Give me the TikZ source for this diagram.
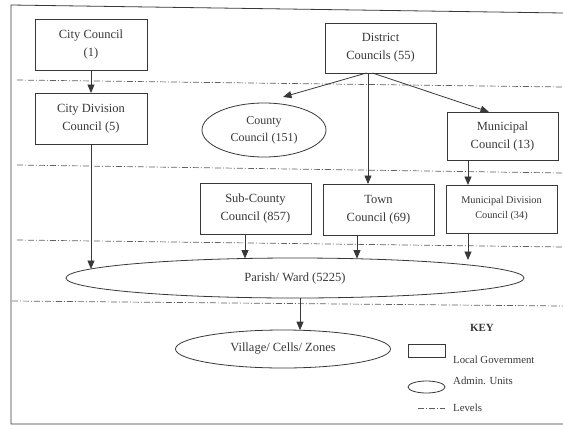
\documentclass[tikz,border=0pt]{standalone}
\usepackage{fontspec}
\setmainfont{Liberation Serif}
\usetikzlibrary{arrows.meta,shapes.geometric}
\definecolor{ink}{HTML}{383838}
\begin{document}
\begin{tikzpicture}[x=1pt,y=-1pt,
  every node/.style={text=ink},
  gov/.style={draw=ink,line width=0.8pt,rectangle,inner sep=0pt,outer sep=0pt,
    minimum width=111pt,minimum height=50pt,align=center,
    font=\fontsize{12.5}{18}\selectfont},
  unit/.style={draw=ink,line width=0.8pt,ellipse,inner sep=0pt,outer sep=0pt,align=center,
    font=\fontsize{12.5}{18}\selectfont},
  arr/.style={draw=ink,line width=0.8pt,-{Triangle[length=8.5pt,width=7pt]}},
  lvl/.style={draw=ink!80,line width=0.7pt,dash pattern=on 6pt off 2pt on 1pt off 2pt},
  keytxt/.style={anchor=west,font=\fontsize{10.8}{12}\selectfont,inner sep=0pt}]
\useasboundingbox (0,0) rectangle (563,429);
% frame
\draw[ink,line width=0.8pt] (563,13) -- (11,5) -- (11,424) -- (563,424);
% levels
\draw[lvl] (17,80) -- (563,87);
\draw[lvl] (17,165) -- (563,173);
\draw[lvl] (17,240) -- (563,247);
\draw[lvl] (12,301) -- (563,306);
% nodes
\node[gov,minimum width=112pt,minimum height=51pt] (cc) at (91,44.5) {City Council\\(1)};
\node[gov,minimum width=112pt,minimum height=51pt] (cd) at (91,118.5) {City Division\\Council (5)};
\node[gov] (dc) at (380.5,48) {District\\Councils (55)};
\node[unit,minimum width=124pt,minimum height=54pt,font=\fontsize{12}{17}\selectfont] (cw) at (264,130) {County\\Council (151)};
\node[gov,minimum height=48pt] (mc) at (502.5,136) {Municipal\\Council (13)};
\node[gov,minimum height=51pt] (sc) at (255.5,208.5) {Sub-County\\Council (857)};
\node[gov,minimum height=51pt] (tc) at (378.5,209.5) {Town\\Council (69)};
\node[gov,minimum height=48pt,font=\fontsize{10.3}{15}\selectfont] (md) at (501.5,209) {Municipal Division\\Council (34)};
\node[unit,minimum width=458pt,minimum height=40pt] (pw) at (295,278) {Parish/ Ward (5225)};
\node[unit,minimum width=215pt,minimum height=38pt] (vw) at (283,349) {Village/ Cells/ Zones};
% connector end points on ellipse borders
\coordinate (pcd) at (91,269);
\coordinate (psc) at (245,258.5);
\coordinate (ptc) at (357,258.7);
\coordinate (pmd) at (468,260);
\coordinate (pbot) at (300,298);
\coordinate (vtop) at (300,330.2);
\coordinate (ctop) at (283,97);
% connectors
\draw[arr] (cc.south) -- (cd.north);
\draw[arr] (cd.south) -- (pcd);
\draw[arr] ([xshift=-14pt]dc.south) -- (ctop);
\draw[arr] ([xshift=-8pt]dc.south) -- ([xshift=-13.5pt]mc.north);
\draw[arr] ([xshift=-12.5pt]dc.south) -- ([xshift=-10.5pt]tc.north);
\draw[arr] ([xshift=-34.5pt]mc.south) -- ([xshift=-33.5pt]md.north);
\draw[arr] ([xshift=-10.5pt]sc.south) -- (psc);
\draw[arr] ([xshift=-21.5pt]tc.south) -- (ptc);
\draw[arr] ([xshift=-33.5pt]md.south) -- (pmd);
\draw[arr] (pbot) -- (vtop);
% key
\node[font=\fontsize{11}{12}\selectfont\bfseries,inner sep=0pt] (key) at (482,328) {KEY};
\node[draw=ink,line width=0.8pt,rectangle,minimum width=37pt,minimum height=13pt,inner sep=0pt] (kr) at (426.5,350.5) {};
\node[keytxt] (krt) at (453,360) {Local Government};
\node[draw=ink,line width=0.8pt,ellipse,minimum width=37pt,minimum height=12pt,inner sep=0pt] (ke) at (426.5,387) {};
\node[keytxt] (ket) at (453,381) {Admin. Units};
\coordinate (kl1) at (418,408);
\coordinate (kl2) at (445,408);
\draw[lvl] (kl1) -- (kl2);
\node[keytxt] (klt) at (453,408) {Levels};
\end{tikzpicture}
\end{document}
